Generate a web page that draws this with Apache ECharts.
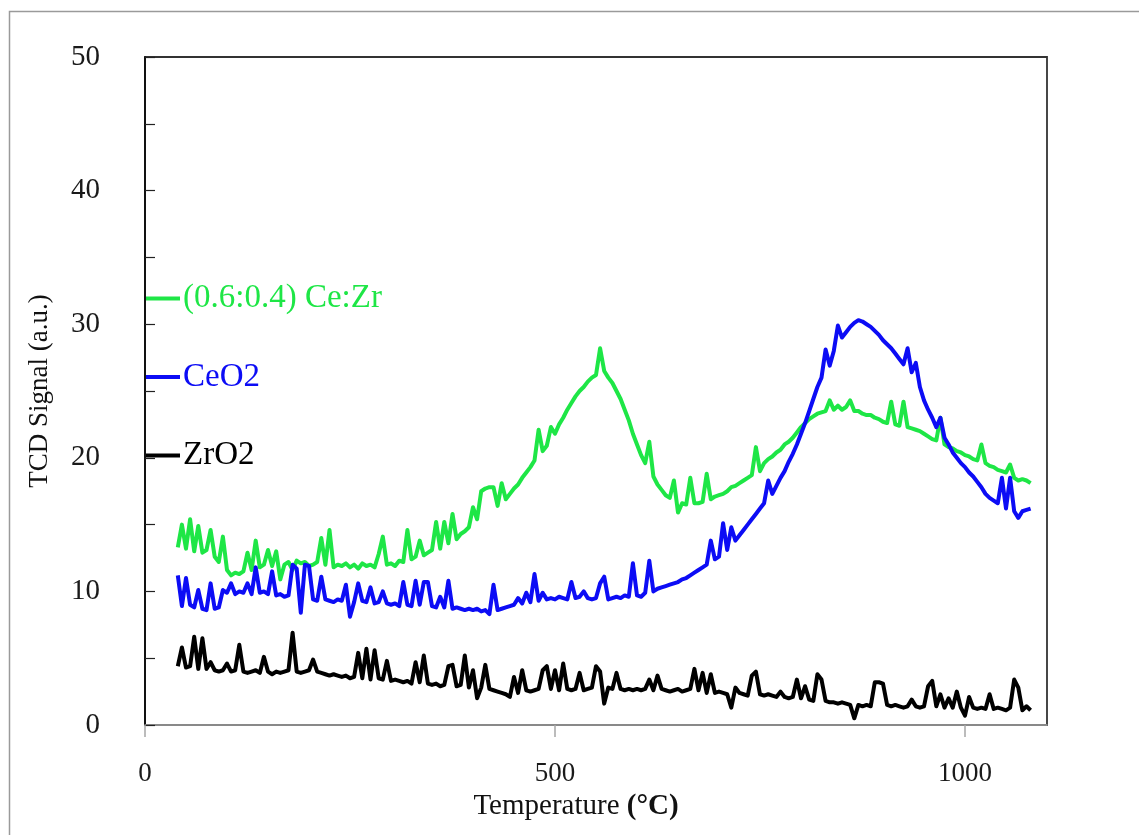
<!DOCTYPE html>
<html>
<head>
<meta charset="utf-8">
<title>TPR profiles</title>
<script src="https://cdn.jsdelivr.net/npm/echarts@6/dist/echarts.min.js"></script>
<style>
  html, body { margin: 0; padding: 0; background: #ffffff; }
  #chart { width: 1139px; height: 835px; }
</style>
</head>
<body>
<div id="chart"></div>
<script>
// Sampling grid of the TCD traces (°C)
const tempStart = 40;
const tempStep = 5;

// (0.6:0.4) Ce:Zr trace, one value per grid step, rows of 50 °C
const ceZrSignal = [
  13.3, 15.0, 13.2, 15.4, 13.0, 14.9, 12.9, 13.1, 14.6, 12.6,
  12.2, 14.1, 11.6, 11.2, 11.4, 11.3, 11.5, 12.9, 11.6, 13.8,
  11.8, 12.0, 13.1, 11.9, 13.0, 10.9, 12.0, 12.2, 11.6, 12.3,
  12.1, 12.2, 11.9, 12.0, 12.2, 14.0, 12.0, 14.6, 11.8, 12.0,
  11.9, 12.1, 11.8, 12.0, 11.7, 12.1, 11.9, 12.0, 11.8, 12.8,
  14.1, 12.0, 12.1, 11.9, 12.3, 12.2, 14.6, 12.4, 12.6, 13.8,
  12.7, 12.9, 13.1, 15.2, 13.2, 15.2, 13.6, 15.8, 13.9, 14.3,
  14.5, 14.8, 16.3, 15.4, 17.5, 17.7, 17.8, 17.8, 16.4, 18.1,
  16.9, 17.3, 17.7, 18.0, 18.5, 18.9, 19.3, 19.8, 22.1, 20.5,
  20.9, 22.3, 21.8, 22.5, 23.0, 23.6, 24.1, 24.6, 25.0, 25.3,
  25.7, 26.0, 26.2, 28.2, 26.5, 26.0, 25.6, 25.0, 24.4, 23.6,
  22.8, 21.8, 21.0, 20.2, 19.6, 21.2, 18.6, 18.0, 17.6, 17.2,
  17.0, 18.3, 15.9, 16.6, 16.5, 18.5, 16.6, 16.6, 16.7, 18.8,
  16.9, 17.1, 17.2, 17.3, 17.5, 17.8, 17.9, 18.1, 18.3, 18.5,
  18.7, 20.8, 19.0, 19.6, 19.9, 20.1, 20.4, 20.6, 21.0, 21.2,
  21.5, 21.9, 22.3, 22.6, 22.9, 23.1, 23.3, 23.4, 23.5, 24.3,
  23.6, 23.9, 23.6, 23.8, 24.3, 23.5, 23.5, 23.3, 23.2, 23.2,
  23.0, 22.9, 22.7, 22.6, 24.2, 22.5, 22.4, 24.2, 22.3, 22.2,
  22.1, 22.0, 21.8, 21.6, 21.4, 21.3, 23.0, 21.0, 20.8, 20.7,
  20.5, 20.4, 20.2, 20.1, 19.9, 19.8, 21.0, 19.6, 19.4, 19.3,
  19.1, 19.0, 18.9, 19.5, 18.5, 18.3, 18.4, 18.3, 18.1
];

// CeO2 trace
const ceo2Signal = [
  11.2, 8.9, 11.0, 9.0, 8.8, 10.1, 8.7, 8.6, 10.6, 8.7,
  8.8, 10.1, 9.9, 10.6, 9.8, 10.0, 9.9, 10.6, 9.8, 11.8,
  9.9, 10.0, 9.8, 11.5, 9.7, 9.8, 9.6, 9.7, 12.0, 11.7,
  8.4, 12.0, 11.9, 9.4, 9.3, 11.1, 9.4, 9.3, 9.2, 9.4,
  9.3, 10.5, 8.1, 9.2, 10.6, 9.3, 9.2, 10.3, 9.1, 9.2,
  10.0, 9.1, 9.0, 9.1, 8.9, 10.7, 9.0, 8.9, 10.8, 9.0,
  10.7, 10.7, 8.9, 8.8, 9.6, 8.8, 10.8, 8.7, 8.8, 8.7,
  8.6, 8.7, 8.6, 8.7, 8.5, 8.6, 8.3, 10.5, 8.6, 8.7,
  8.8, 8.9, 9.0, 9.5, 9.1, 9.9, 9.2, 11.3, 9.3, 9.9,
  9.4, 9.5, 9.4, 9.6, 9.5, 9.4, 10.7, 9.5, 9.6, 10.0,
  9.5, 9.4, 9.5, 10.6, 11.1, 9.4, 9.5, 9.6, 9.5, 9.7,
  9.6, 12.1, 9.7, 9.6, 9.9, 12.3, 10.0, 10.2, 10.3, 10.4,
  10.5, 10.6, 10.7, 10.9, 11.0, 11.2, 11.4, 11.6, 11.8, 12.0,
  13.8, 12.4, 12.6, 15.1, 13.1, 14.8, 13.8, 14.2, 14.6, 15.0,
  15.4, 15.8, 16.2, 16.6, 18.3, 17.3, 17.9, 18.5, 19.0, 19.7,
  20.3, 21.0, 21.8, 22.6, 23.5, 24.4, 25.3, 26.0, 28.1, 26.9,
  28.0, 29.9, 29.0, 29.4, 29.8, 30.1, 30.3, 30.2, 30.0, 29.8,
  29.5, 29.2, 28.8, 28.5, 28.2, 27.8, 27.4, 27.0, 28.2, 26.4,
  27.1, 25.3, 24.3, 23.6, 23.0, 22.3, 23.0, 21.5, 21.0, 20.4,
  20.0, 19.6, 19.3, 18.9, 18.6, 18.2, 17.8, 17.3, 17.0, 16.8,
  16.6, 18.5, 16.2, 18.5, 16.0, 15.5, 16.0, 16.1, 16.2
];

// ZrO2 trace
const zro2Signal = [
  4.4, 5.8, 4.3, 4.4, 6.6, 4.2, 6.5, 4.2, 4.7, 4.1,
  4.0, 4.1, 4.6, 4.0, 4.1, 6.0, 4.0, 3.9, 4.0, 4.1,
  3.9, 5.1, 4.0, 3.8, 4.0, 3.9, 4.0, 4.1, 6.9, 4.0,
  3.9, 4.0, 4.1, 4.9, 4.0, 3.9, 3.8, 3.7, 3.8, 3.7,
  3.6, 3.7, 3.5, 3.6, 5.4, 3.5, 5.7, 3.4, 5.6, 3.5,
  3.4, 4.8, 3.3, 3.4, 3.3, 3.2, 3.3, 3.1, 4.7, 3.2,
  5.2, 3.1, 3.0, 3.1, 2.9, 3.0, 4.4, 4.5, 2.9, 3.0,
  5.2, 2.8, 4.1, 2.0, 2.8, 4.5, 2.7, 2.6, 2.5, 2.4,
  2.3, 2.1, 3.6, 2.4, 4.1, 2.6, 2.5, 2.6, 2.7, 4.1,
  4.4, 2.7, 4.1, 2.6, 4.6, 2.7, 2.6, 2.7, 3.9, 2.6,
  2.7, 2.8, 4.4, 4.0, 1.6, 2.8, 2.7, 3.9, 2.7, 2.6,
  2.7, 2.6, 2.7, 2.6, 2.7, 3.4, 2.6, 3.7, 2.7, 2.6,
  2.5, 2.6, 2.7, 2.5, 2.6, 2.7, 4.2, 2.6, 3.9, 2.4,
  3.8, 2.4, 2.5, 2.4, 2.3, 1.3, 2.8, 2.4, 2.3, 2.2,
  3.7, 4.0, 2.3, 2.2, 2.3, 2.2, 2.1, 2.5, 2.1, 2.0,
  2.1, 3.4, 2.0, 2.9, 1.9, 1.8, 3.8, 3.4, 1.8, 1.7,
  1.7, 1.6, 1.7, 1.6, 1.5, 0.5, 1.5, 1.4, 1.5, 1.4,
  3.2, 3.2, 3.1, 1.5, 1.4, 1.5, 1.4, 1.3, 1.4, 1.9,
  1.4, 1.3, 1.4, 2.9, 3.3, 1.4, 2.3, 1.3, 2.0, 1.3,
  2.5, 1.3, 0.7, 2.1, 1.3, 1.2, 1.3, 1.2, 2.3, 1.2,
  1.3, 1.2, 1.1, 1.3, 3.4, 2.8, 1.1, 1.4, 1.1
];

const seriesNames = ['(0.6:0.4) Ce:Zr', 'CeO2', 'ZrO2'];
const seriesColors = ['#1ee646', '#0c0cf5', '#000000'];
const xTickValues = [0, 500, 1000];
const yLabelValues = [0, 10, 20, 30, 40, 50];

function pairUp(values) {
  return values.map((v, i) => [tempStart + i * tempStep, v]);
}

const serif = 'Liberation Serif';
const chart = echarts.init(document.getElementById('chart'), null, { renderer: 'canvas' });

const traces = [ceZrSignal, ceo2Signal, zro2Signal];

chart.setOption({
  animation: false,
  backgroundColor: '#ffffff',
  graphic: [{
    type: 'rect',
    left: 7, top: 9,
    shape: { width: 1300, height: 1000 },
    style: { fill: 'none', stroke: '#9a9a9a', lineWidth: 1.5 },
    silent: true,
    z: -10
  }],
  grid: {
    left: 145, right: 92, top: 57, bottom: 110,
    show: true,
    borderColor: '#333333',
    borderWidth: 1.8,
    backgroundColor: 'transparent'
  },
  legend: {
    orient: 'vertical',
    left: 146,
    top: 282,
    padding: 0,
    itemWidth: 34,
    itemHeight: 4,
    itemGap: 45.5,
    icon: 'rect',
    selectedMode: false,
    data: seriesNames.map((n, i) => ({
      name: n,
      textStyle: { color: seriesColors[i] }
    })),
    textStyle: { fontFamily: serif, fontSize: 33, padding: [0, 0, 0, -2] }
  },
  xAxis: {
    type: 'value',
    min: 0, max: 1100, interval: 500,
    name: 'Temperature {b|(°C)}',
    nameLocation: 'middle',
    nameGap: 62,
    nameTextStyle: {
      fontFamily: serif, fontSize: 29, color: '#111',
      padding: [0, 40, 0, 0],
      rich: { b: { fontFamily: serif, fontSize: 29, fontWeight: 'bold', color: '#111' } }
    },
    axisLine: { show: true, lineStyle: { color: '#a6a6a6', width: 1.5 } },
    axisTick: { show: true, inside: false, length: 12, customValues: xTickValues,
      lineStyle: { color: '#a6a6a6', width: 1.5 } },
    axisLabel: { fontFamily: serif, fontSize: 27, color: '#1a1a1a', margin: 35,
      customValues: xTickValues, formatter: v => String(v) },
    splitLine: { show: false }
  },
  yAxis: {
    type: 'value',
    min: 0, max: 50, interval: 5,
    name: 'TCD Signal (a.u.)',
    nameLocation: 'middle',
    nameGap: 92,
    nameTextStyle: { fontFamily: serif, fontSize: 27, color: '#111' },
    axisLine: { show: true, lineStyle: { color: '#000', width: 1.5 } },
    axisTick: { show: true, inside: true, length: 10, lineStyle: { color: '#222', width: 1.2 } },
    axisLabel: {
      fontFamily: serif, fontSize: 29, color: '#1a1a1a', margin: 45,
      customValues: yLabelValues,
      formatter: v => (v % 10 === 0 ? String(v) : '')
    },
    splitLine: { show: false }
  },
  series: traces.map((vals, i) => ({
    name: seriesNames[i],
    type: 'line',
    data: pairUp(vals),
    showSymbol: false,
    symbol: 'none',
    smooth: false,
    color: seriesColors[i],
    lineStyle: { color: seriesColors[i], width: 4, join: 'round' },
    z: 2 + i
  }))
});
</script>
</body>
</html>
